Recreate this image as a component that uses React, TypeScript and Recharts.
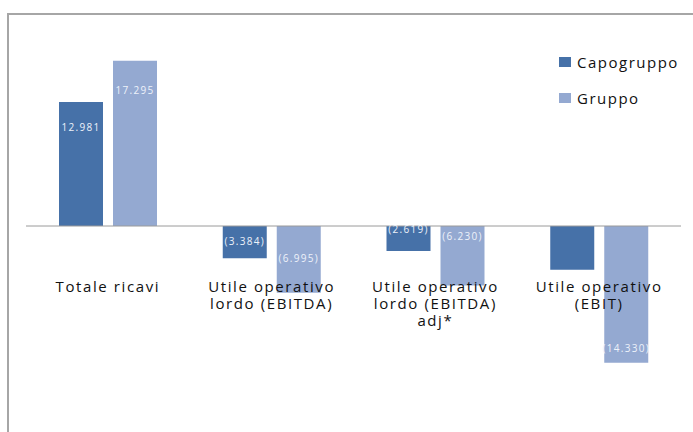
import React from "react";
import { BarChart, Bar, XAxis, YAxis, ReferenceLine, LabelList } from "recharts";

const CATEGORIES = [
  "Totale ricavi",
  "Utile operativo lordo (EBITDA)",
  "Utile operativo lordo (EBITDA) adj*",
  "Utile operativo (EBIT)",
];
const CAPOGRUPPO = [12981, -3384, -2619, -4580];
const GRUPPO = [17295, -6995, -6230, -14330];
const SERIES_NAMES = ["Capogruppo", "Gruppo"];

// data labels in the original were dragged around by hand
const CAPO_LABEL_DY = [-37, -1, -10, 0];
const GRUPPO_LABEL_DY = [-53, -1, -20, 54];
const CAPO_HIDDEN = [3];

const Y_MIN = -20000;
const Y_MAX = 20000;
const W = 693;
const H = 432;
const TOP = 35;
const AXIS_H = 15;
const PLOT_H = H - TOP - AXIS_H;
const ZERO_Y = TOP + (PLOT_H * Y_MAX) / (Y_MAX - Y_MIN);

const DARK = "#4671a8";
const LIGHT = "#94a9d1";
const FONT = "'Open Sans', sans-serif";

const data = CATEGORIES.map((name, i) => ({
  name,
  capogruppo: CAPOGRUPPO[i],
  gruppo: GRUPPO[i],
}));

const fmt = (v: number) => {
  const s = String(Math.round(Math.abs(v))).replace(/\B(?=(\d{3})+(?!\d))/g, ".");
  return v < 0 ? `(${s})` : s;
};

const wrap = (text: string, max = 16) => {
  const lines: string[] = [];
  let cur = "";
  text.split(" ").forEach((w) => {
    if (cur && (cur + " " + w).length > max) {
      lines.push(cur);
      cur = w;
    } else {
      cur = cur ? cur + " " + w : w;
    }
  });
  if (cur) lines.push(cur);
  return lines;
};

const CategoryTick = (props: any) => {
  const { x, payload } = props;
  const lines = wrap(String(payload.value));
  return (
    <text
      x={x}
      y={ZERO_Y + 66}
      textAnchor="middle"
      fill="#111"
      fontSize={15}
      fontFamily={FONT}
      letterSpacing={1.6}
    >
      {lines.map((l, i) => (
        <tspan key={i} x={x} dy={i === 0 ? 0 : 17}>
          {l}
        </tspan>
      ))}
    </text>
  );
};

const makeLabel = (shifts: number[], hidden: number[] = []) => (props: any) => {
  const { x, y, width, height, value, index } = props;
  if (hidden.includes(index)) return null;
  const cy = Number(y) + Number(height) / 2 + shifts[index];
  return (
    <text
      x={Number(x) + Number(width) / 2}
      y={cy}
      dy={4}
      textAnchor="middle"
      fill="#eef2fa"
      fontSize={10}
      fontFamily={FONT}
      letterSpacing={1.3}
    >
      {fmt(Number(value))}
    </text>
  );
};

export default function App() {
  return (
    <div
      style={{
        position: "absolute",
        left: 0,
        top: 0,
        width: W,
        height: H,
        overflow: "hidden",
        background: "#fff",
      }}
    >
      <div
        style={{
          position: "absolute",
          left: 7,
          top: 13,
          width: 800,
          height: 600,
          borderLeft: "2px solid #a6a6a6",
          borderTop: "2px solid #a6a6a6",
        }}
      />
      <div style={{ position: "absolute", left: 0, top: 0 }}>
        <BarChart
          width={W}
          height={H}
          data={data}
          margin={{ top: TOP, right: 12, left: 26, bottom: 0 }}
          barSize={44}
          barGap={10}
        >
          <XAxis
            dataKey="name"
            height={AXIS_H}
            axisLine={false}
            tickLine={false}
            interval={0}
            tick={<CategoryTick />}
          />
          <YAxis hide domain={[Y_MIN, Y_MAX]} />
          <ReferenceLine y={0} stroke="#9a9a9a" strokeWidth={1} />
          <Bar dataKey="capogruppo" name={SERIES_NAMES[0]} fill={DARK} isAnimationActive={false}>
            <LabelList dataKey="capogruppo" content={makeLabel(CAPO_LABEL_DY, CAPO_HIDDEN)} />
          </Bar>
          <Bar dataKey="gruppo" name={SERIES_NAMES[1]} fill={LIGHT} isAnimationActive={false}>
            <LabelList dataKey="gruppo" content={makeLabel(GRUPPO_LABEL_DY)} />
          </Bar>
        </BarChart>
      </div>
      <div
        style={{
          position: "absolute",
          left: 559,
          top: 44,
          fontFamily: FONT,
          fontSize: 15,
          letterSpacing: 1.5,
          color: "#111",
        }}
      >
        {SERIES_NAMES.map((name, i) => (
          <div key={name} style={{ display: "flex", alignItems: "center", height: 36 }}>
            <span
              style={{
                width: 12,
                height: 10,
                background: i === 0 ? DARK : LIGHT,
                marginRight: 6,
                display: "inline-block",
              }}
            />
            {name}
          </div>
        ))}
      </div>
    </div>
  );
}
